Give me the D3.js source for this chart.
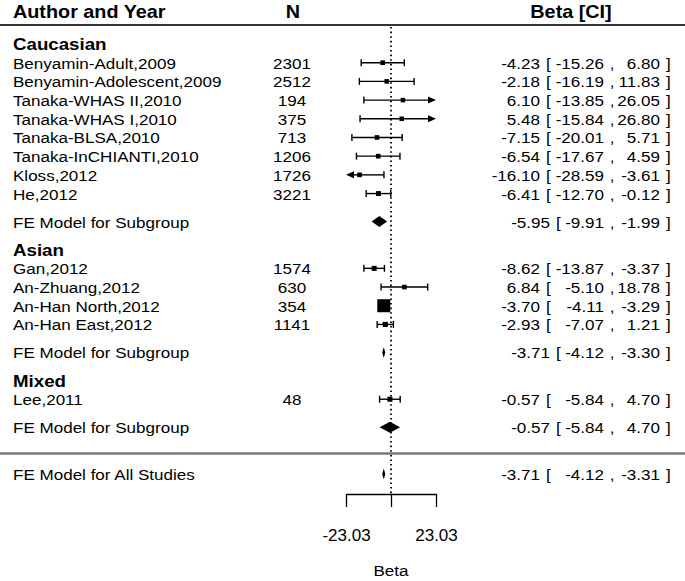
<!DOCTYPE html>
<html lang="en">
<head>
<meta charset="UTF-8">
<title>Forest plot</title>
<script src="https://cdn.jsdelivr.net/npm/d3@7"></script>
<style>
  body { margin: 0; background: #fff; }
  text { font-family: "Liberation Sans", Arial, sans-serif; fill: #000; }
</style>
</head>
<body>
<svg id="chart" width="685" height="581"></svg>
<script>
// ---- data ----
var groups = ["Caucasian", "Asian", "Mixed"];
var studyNames = ["Benyamin-Adult,2009", "Benyamin-Adolescent,2009", "Tanaka-WHAS II,2010", "Tanaka-WHAS I,2010",
                  "Tanaka-BLSA,2010", "Tanaka-InCHIANTI,2010", "Kloss,2012", "He,2012",
                  "Gan,2012", "An-Zhuang,2012", "An-Han North,2012", "An-Han East,2012",
                  "Lee,2011"];
var studyGroup = [0, 0, 0, 0, 0, 0, 0, 0, 1, 1, 1, 1, 2];
var studyN     = [2301, 2512, 194, 375, 713, 1206, 1726, 3221, 1574, 630, 354, 1141, 48];
var studyBeta  = [-4.23, -2.18, 6.10, 5.48, -7.15, -6.54, -16.10, -6.41, -8.62, 6.84, -3.70, -2.93, -0.57];
var studyLow   = [-15.26, -16.19, -13.85, -15.84, -20.01, -17.67, -28.59, -12.70, -13.87, -5.10, -4.11, -7.07, -5.84];
var studyHigh  = [6.80, 11.83, 26.05, 26.80, 5.71, 4.59, -3.61, -0.12, -3.37, 18.78, -3.29, 1.21, 4.70];

var subBeta = [-5.95, -3.71, -0.57];
var subLow  = [-9.91, -4.12, -5.84];
var subHigh = [-1.99, -3.30, 4.70];

var allBeta = -3.71, allLow = -4.12, allHigh = -3.31;

var axisTicks = [-23.03, 0, 23.03];
var axisLabel = "Beta";

// ---- layout ----
var svg = d3.select("#chart");
var W = 685;
var x = d3.scaleLinear().domain([-23.03, 23.03]).range([346, 436]);
var y = d3.scaleLinear().domain([0, 23]).range([44, 474]);
var axisY = 494;
var fmt = function (v) { return v.toFixed(2); };

// work out row positions (group header, studies, subgroup model)
var studyRow = [], groupRow = [], subRow = [];
var r = 0;
groups.forEach(function (g, gi) {
    groupRow.push(r);
    r += 1;
    studyGroup.forEach(function (sg, i) {
        if (sg === gi) { studyRow[i] = r; r += 1; }
    });
    r += 0.5;
    subRow.push(r);
    r += 1.5;
});
var lineRow = subRow[subRow.length - 1] + 1.4;
var allRow = subRow[subRow.length - 1] + 2.5;

function txt(px, py, s, o) {
    o = o || {};
    return svg.append("text")
        .attr("transform", "translate(" + px + "," + py + ") scale(1.1,1)")
        .attr("text-anchor", o.anchor || "start")
        .style("font-size", (o.size || 15.5) + "px")
        .style("font-weight", o.bold ? "bold" : "normal")
        .text(s);
}

// header
txt(13, 18, "Author and Year", { bold: true, size: 18 });
txt(293, 18, "N", { bold: true, size: 18, anchor: "middle" });
txt(571, 18, "Beta [CI]", { bold: true, size: 18, anchor: "middle" });
svg.append("line").attr("x1", 0).attr("x2", W).attr("y1", 25).attr("y2", 25)
    .attr("stroke", "#333").attr("stroke-width", 2);

// reference line at 0
svg.append("line").attr("x1", x(0)).attr("x2", x(0)).attr("y1", 27).attr("y2", axisY)
    .attr("stroke", "#000").attr("stroke-width", 1.8).attr("stroke-dasharray", "1.6,3");

// separator before overall model
svg.append("line").attr("x1", 0).attr("x2", W).attr("y1", y(lineRow)).attr("y2", y(lineRow))
    .attr("stroke", "#777").attr("stroke-width", 2.5);

// annotation columns: est [ lb , ub ]
function annot(py, b, lo, hi, summary) {
    var estEnd = summary ? 550 : 540;
    var brk = summary ? 556 : 546;
    txt(estEnd, py, fmt(b), { anchor: "end" });
    txt(brk, py, "[");
    txt(604, py, fmt(lo), { anchor: "end" });
    txt(612, py, ",", { anchor: "middle" });
    txt(660, py, fmt(hi), { anchor: "end" });
    txt(666, py, "]");
}

// group headers
groups.forEach(function (g, gi) {
    txt(13, y(groupRow[gi]) + 6, g, { bold: true, size: 17 });
});

// point size from inverse standard error
var wts = studyLow.map(function (lo, i) { return 1 / ((studyHigh[i] - lo) / 3.92); });
var psize = d3.scaleLinear().domain(d3.extent(wts)).range([4.5, 13]);

var lo = x.domain()[0], hi = x.domain()[1];
studyNames.forEach(function (name, i) {
    var cy = y(studyRow[i]);
    txt(13, cy + 6, name);
    txt(292, cy + 6, studyN[i], { anchor: "middle" });
    annot(cy + 6, studyBeta[i], studyLow[i], studyHigh[i], false);

    var l = Math.max(studyLow[i], lo), h = Math.min(studyHigh[i], hi);
    var x1 = x(l), x2 = x(h);
    var arrowL = studyLow[i] < lo, arrowR = studyHigh[i] > hi;
    svg.append("line").attr("x1", arrowL ? x1 + 7 : x1).attr("x2", arrowR ? x2 - 7 : x2)
        .attr("y1", cy).attr("y2", cy).attr("stroke", "#000").attr("stroke-width", 1.4);
    if (arrowL) {
        svg.append("path").attr("d", "M" + x1 + "," + cy + "L" + (x1 + 8) + "," + (cy - 3.5) + "L" + (x1 + 8) + "," + (cy + 3.5) + "Z");
    } else {
        svg.append("line").attr("x1", x1).attr("x2", x1).attr("y1", cy - 3.5).attr("y2", cy + 3.5)
            .attr("stroke", "#000").attr("stroke-width", 1.4);
    }
    if (arrowR) {
        svg.append("path").attr("d", "M" + x2 + "," + cy + "L" + (x2 - 8) + "," + (cy - 3.5) + "L" + (x2 - 8) + "," + (cy + 3.5) + "Z");
    } else {
        svg.append("line").attr("x1", x2).attr("x2", x2).attr("y1", cy - 3.5).attr("y2", cy + 3.5)
            .attr("stroke", "#000").attr("stroke-width", 1.4);
    }
    var s = psize(wts[i]);
    svg.append("rect").attr("x", x(studyBeta[i]) - s / 2).attr("y", cy - s / 2)
        .attr("width", s).attr("height", s).attr("fill", "#000");
});

function diamond(cy, b, l, h) {
    var hh = 5.5;
    var xl = Math.min(x(l), x(b) - 1.5), xh = Math.max(x(h), x(b) + 1.5);
    svg.append("path")
        .attr("d", "M" + xl + "," + cy + "L" + x(b) + "," + (cy - hh) + "L" + xh + "," + cy + "L" + x(b) + "," + (cy + hh) + "Z")
        .attr("fill", "#000");
}

subBeta.forEach(function (b, gi) {
    var cy = y(subRow[gi]);
    txt(13, cy + 6, "FE Model for Subgroup");
    annot(cy + 6, b, subLow[gi], subHigh[gi], true);
    diamond(cy, b, subLow[gi], subHigh[gi]);
});

var cyAll = y(allRow);
txt(13, cyAll + 6, "FE Model for All Studies");
annot(cyAll + 6, allBeta, allLow, allHigh, false);
diamond(cyAll, allBeta, allLow, allHigh);

// x axis
var axis = d3.axisBottom(x).tickValues(axisTicks).tickSize(13).tickSizeOuter(0)
    .tickFormat(function (d) { return d === 0 ? "" : fmt(d); });
var ga = svg.append("g").attr("transform", "translate(0," + axisY + ")").call(axis);
ga.select(".domain").attr("stroke", "#000").attr("stroke-width", 1.3);
ga.selectAll(".tick line").attr("stroke", "#000").attr("stroke-width", 1.3);
ga.selectAll(".tick text").attr("y", 35).style("font-size", "17px")
    .style("font-family", '"Liberation Sans", Arial, sans-serif').attr("fill", "#000");

txt(x(0), 576, axisLabel, { anchor: "middle" });
</script>
</body>
</html>
